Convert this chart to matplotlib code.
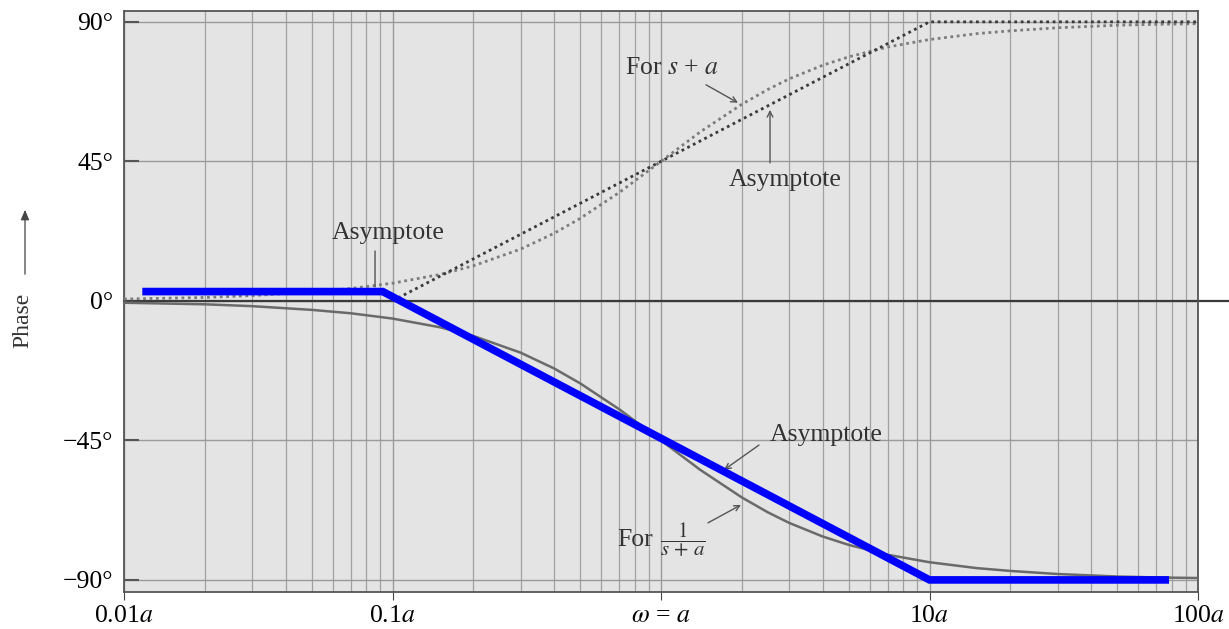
import matplotlib
matplotlib.use("Agg")
import matplotlib.pyplot as plt
from matplotlib.patches import FancyArrowPatch
from matplotlib.ticker import NullFormatter, LogLocator

plt.rcParams['font.family'] = ['Liberation Serif', 'DejaVu Serif']
plt.rcParams['mathtext.fontset'] = 'stix'

# frequencies (multiples of a) and phases, degrees
w_exact = [0.01, 0.02, 0.03, 0.05, 0.07, 0.1, 0.15, 0.2, 0.3, 0.4, 0.5, 0.7,
           1.0, 1.4, 2.0, 2.5, 3.0, 4.0, 5.0, 7.0, 10, 15, 20, 30, 50, 70, 100]
phase_zero = [0.6, 1.1, 1.7, 2.9, 4.0, 5.7, 8.5, 11.3, 16.7, 21.8, 26.6, 35.0,
              45.0, 54.5, 63.4, 68.2, 71.6, 76.0, 78.7, 81.9, 84.3, 86.2, 87.1,
              88.1, 88.9, 89.2, 89.4]
phase_pole = [-0.6, -1.1, -1.7, -2.9, -4.0, -5.7, -8.5, -11.3, -16.7, -21.8,
              -26.6, -35.0, -45.0, -54.5, -63.4, -68.2, -71.6, -76.0, -78.7,
              -81.9, -84.3, -86.2, -87.1, -88.1, -88.9, -89.2, -89.4]

# straight-line asymptote for s + a
w_asym_zero = [0.1, 10, 100]
phase_asym_zero = [0, 90, 90]

# blue asymptote overlay for 1/(s + a)
w_asym_pole = [0.0117, 0.092, 10, 78]
phase_asym_pole = [3, 3, -90, -90]

yticks = [-90, -45, 0, 45, 90]
ytick_labels = ['\u221290\u00b0', '\u221245\u00b0', '0\u00b0', '45\u00b0', '90\u00b0']
xticks = [0.01, 0.1, 1, 10, 100]
xtick_labels = ['0.01$a$', '0.1$a$', r'$\omega$ = $a$', '10$a$', '100$a$']

fig = plt.figure(figsize=(12.29, 6.29), dpi=100)
ax = fig.add_axes([124 / 1229, 1 - 592 / 629, (1198 - 124) / 1229, (592 - 11) / 629])
ax.set_facecolor('#e4e4e4')

ax.set_xscale('log')
ax.set_xlim(0.01, 100)
ax.set_ylim(-93.9, 93.5)

ax.set_xticks(xticks)
ax.set_xticklabels(xtick_labels, fontsize=18.5)
ax.xaxis.set_minor_locator(LogLocator(base=10, subs=range(2, 10)))
ax.xaxis.set_minor_formatter(NullFormatter())
ax.set_yticks(yticks)
ax.set_yticklabels(ytick_labels, fontsize=18.5)

ax.grid(True, which='major', axis='both', color='#9a9a9a', lw=1.0)
ax.grid(True, which='minor', axis='x', color='#a0a0a0', lw=0.9)
ax.tick_params(axis='x', which='major', direction='out', length=6, pad=3, color='#444')
ax.tick_params(axis='x', which='minor', length=0)
ax.tick_params(axis='y', direction='in', length=11, width=1.5, pad=8, color='#555')
for sp in ax.spines.values():
    sp.set_color('#555555')
    sp.set_linewidth(1.3)

# zero line runs past the right frame
ax.axhline(0, xmin=0, xmax=1.029, clip_on=False, color='#3a3a3a', lw=1.6, zorder=2)

ax.plot(w_exact, phase_zero, color='#7c7c7c', lw=2.0, ls=(0, (1, 1.3)), zorder=3)
ax.plot(w_asym_zero, phase_asym_zero, color='#3a3a3a', lw=2.0, ls=(0, (1, 1.3)), zorder=3)
ax.plot(w_exact, phase_pole, color='#6a6a6a', lw=1.8, zorder=3)
ax.plot(w_asym_pole, phase_asym_pole, color='#0000ff', lw=5.5, solid_capstyle='butt',
        solid_joinstyle='miter', zorder=4)

arrow = dict(arrowstyle='->', color='#555', lw=1.0, shrinkA=0, shrinkB=0)
ax.annotate('', xy=(0.0861, 4.5), xytext=(0.0861, 16.1),
            arrowprops=dict(arrowstyle='-', color='#555', lw=1.0, shrinkA=0, shrinkB=0))
ax.text(0.0962, 21.9, 'Asymptote', fontsize=18.5, color='#333', ha='center', va='center')

ax.annotate('', xy=(1.935, 63.9), xytext=(1.471, 69.7), arrowprops=arrow)
ax.text(1.099, 75.2, 'For $s$ + $a$', fontsize=18.5, color='#333', ha='center', va='center')

ax.annotate('', xy=(2.547, 61.6), xytext=(2.547, 44.5), arrowprops=arrow)
ax.text(2.90, 39.0, 'Asymptote', fontsize=18.5, color='#333', ha='center', va='center')

ax.annotate('', xy=(1.717, -54.5), xytext=(2.317, -46.5), arrowprops=arrow)
ax.text(4.12, -43.2, 'Asymptote', fontsize=18.5, color='#333', ha='center', va='center')

ax.annotate('', xy=(1.986, -65.8), xytext=(1.496, -71.6), arrowprops=arrow)
ax.text(0.80, -77.1, 'For', fontsize=18.5, color='#333', ha='center', va='center')
ax.text(1.21, -77.1, r'$\dfrac{1}{s\,+\,a}$', fontsize=15, color='#333',
        ha='center', va='center')

# y label with its arrow
fig.text(23 / 1229, 1 - 320 / 629, 'Phase', rotation=90, fontsize=17, color='#333',
         ha='center', va='center')
fig.patches.append(FancyArrowPatch(
    (25 / 1229, 1 - 277 / 629), (25 / 1229, 1 - 207 / 629), transform=fig.transFigure,
    arrowstyle='-|>,head_length=6,head_width=2.5', color='#444', lw=0.9))

fig.savefig('out.png', dpi=100)
